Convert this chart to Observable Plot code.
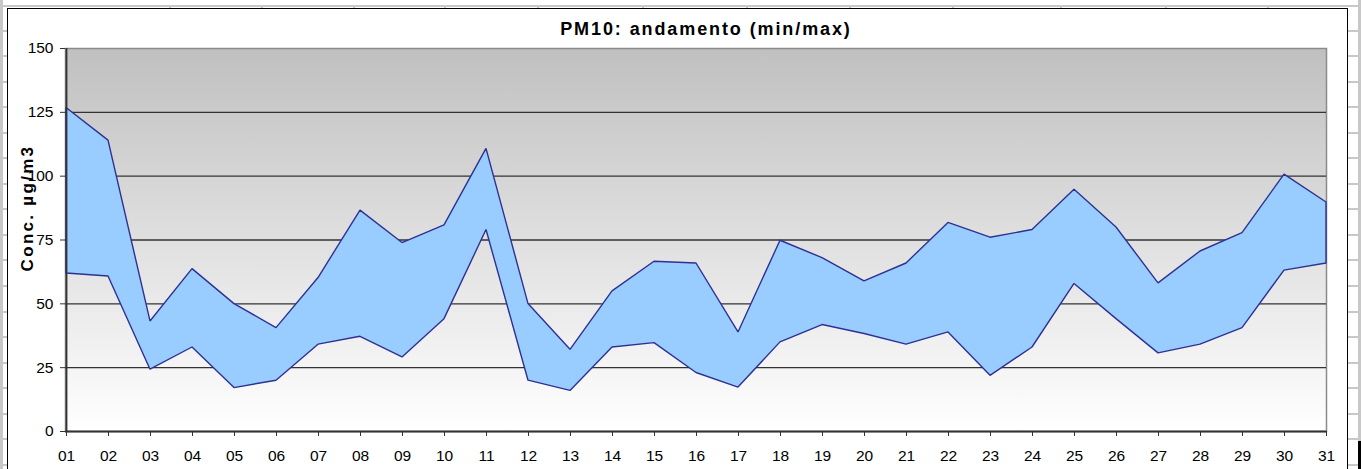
<!DOCTYPE html>
<html>
<head>
<meta charset="utf-8">
<script src="https://cdn.jsdelivr.net/npm/d3@7"></script>
<script src="https://cdn.jsdelivr.net/npm/@observablehq/plot@0.6"></script>
<style>
  html, body { margin: 0; padding: 0; background: #fff; }
  #page { position: relative; width: 1361px; height: 469px; overflow: hidden; background: #fff; font-family: "Liberation Sans", Arial, sans-serif; }
  .deco { position: absolute; background: #c8c8c8; }
  #frame { position: absolute; left: 7px; top: 8px; width: 1341px; height: 500px; border: 1.5px solid #000; background: #fff; box-sizing: border-box; }
  #chart { position: absolute; left: 0; top: 0; }
  #title { position: absolute; left: 406px; width: 600px; top: 20px; line-height: 18px; text-align: center; font-weight: bold; font-size: 18px; letter-spacing: 1.9px; color: #000; }
  #ylabel { position: absolute; left: -82px; width: 220px; top: 198px; height: 20px; line-height: 20px; text-align: center; font-weight: bold; font-size: 17px; letter-spacing: 2.3px; color: #000; transform: rotate(-90deg); }
</style>
</head>
<body>
<div id="page">
  <div id="frame"></div>
  <div id="title">PM10: andamento (min/max)</div>
  <div id="ylabel">Conc. µg/m3</div>
</div>
<script>
// ---- data ----
const days = ["01","02","03","04","05","06","07","08","09","10","11","12","13","14","15","16","17","18","19","20","21","22","23","24","25","26","27","28","29","30","31"];
const maxValues = [126.7, 113.9, 43.1, 63.6, 49.9, 40.5, 60.1, 86.5, 73.8, 80.7, 110.7, 49.9, 32.0, 54.9, 66.5, 65.8, 38.8, 74.7, 67.9, 58.8, 65.8, 81.7, 75.9, 78.9, 94.7, 79.9, 58.0, 70.5, 77.7, 100.6, 89.7];
const minValues = [61.9, 60.7, 24.2, 32.9, 17.0, 19.9, 34.0, 37.1, 29.0, 44.0, 78.9, 19.9, 15.9, 32.9, 34.6, 22.9, 17.2, 34.9, 41.7, 38.2, 34.0, 38.8, 21.8, 32.9, 57.8, 44.0, 30.6, 34.0, 40.5, 63.0, 65.8];
const yTicks = [0, 25, 50, 75, 100, 125, 150];
const gridValues = [25, 50, 75, 100, 125];

const table = days.map((d, i) => ({day: d, min: minValues[i], max: maxValues[i]}));

// ---- spreadsheet decoration behind the chart ----
const page = document.getElementById("page");
const frame = document.getElementById("frame");
function deco(l, t, w, h, color) {
  const el = document.createElement("div");
  el.className = "deco";
  el.style.left = l + "px"; el.style.top = t + "px";
  el.style.width = w + "px"; el.style.height = h + "px";
  if (color) el.style.background = color;
  page.insertBefore(el, frame);
}
deco(0, 5, 1361, 2);          // top header edge
deco(0, 0, 2.5, 469);         // left column edge
deco(1358, 0, 3, 469);        // right column edge
[170, 262, 354, 445, 538, 643, 747, 850, 953, 1061, 1166, 1268].forEach(x => deco(x - 1, 7, 2, 3));
for (let k = 0; k < 18; k++) {
  const y = 30.5 + 25.55 * k;
  deco(0, y - 1, 8, 2);
  deco(1348, y - 1, 11, 2);
}
deco(1358, 441, 3, 40, "#000");

// ---- chart ----
const chart = Plot.plot({
  width: 1361,
  height: 469,
  marginLeft: 65,
  marginRight: 35,
  marginTop: 48,
  marginBottom: 38,
  style: {background: "transparent", fontFamily: "'Liberation Sans', Arial, sans-serif", fontSize: "15px", color: "#000", overflow: "visible"},
  x: {type: "point", domain: days, padding: 0, label: null},
  y: {domain: [0, 150], label: null},
  marks: [
    Plot.frame({fill: "url(#plotbg)", stroke: "#8a8a8a", strokeWidth: 1.5}),
    Plot.ruleY(gridValues, {stroke: "#333", strokeWidth: 1.4}),
    Plot.areaY(table, {x: "day", y1: "min", y2: "max", fill: "#99ccff", stroke: "#2e3192", strokeWidth: 1.4, strokeLinejoin: "miter"}),
    Plot.ruleY([0], {stroke: "#333", strokeWidth: 1.8}),
    Plot.ruleX([days[0]], {stroke: "#333", strokeWidth: 1.8}),
    Plot.axisY({ticks: yTicks, tickSize: 5, tickPadding: 7, label: null, stroke: "#333", fontSize: 15.5}),
    Plot.axisX({tickSize: 5, tickPadding: 13, label: null, stroke: "#333", fontSize: 15.5})
  ]
});
chart.id = "chart";
d3.select(chart).insert("defs", ":first-child").html(
  '<linearGradient id="plotbg" x1="0" y1="0" x2="0" y2="1">' +
  '<stop offset="0" stop-color="#c0c0c0"/><stop offset="1" stop-color="#ffffff"/></linearGradient>'
);
page.insertBefore(chart, document.getElementById("title"));
</script>
</body>
</html>
